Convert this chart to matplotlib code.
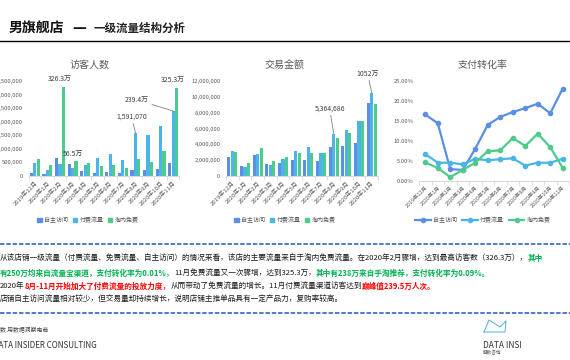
import matplotlib
matplotlib.use('Agg')
import matplotlib.pyplot as plt
from matplotlib.lines import Line2D
from matplotlib.patches import Patch
from matplotlib.ticker import FuncFormatter
import numpy as np

plt.rcParams['font.family'] = ['Noto Sans CJK SC', 'DejaVu Sans']

months = ['2019年12月', '2020年1月', '2020年2月', '2020年3月', '2020年4月', '2020年5月',
          '2020年6月', '2020年7月', '2020年8月', '2020年9月', '2020年10月', '2020年11月']
series = ['自主访问', '付费流量', '淘内免费']

# 访客人数
visitors_self = [120000, 70000, 665000, 440000, 197000, 110000, 148000, 110000, 210000, 210000, 270000, 468000]
visitors_paid = [470000, 210000, 455000, 283000, 393000, 665000, 800000, 590000, 1591070, 1500000, 1840000, 2394000]
visitors_free = [625000, 405000, 3263000, 565000, 480000, 370000, 405000, 283000, 625000, 516000, 920000, 3253000]

# 交易金额
sales_self = [2400000, 1300000, 2600000, 1520000, 1600000, 1980000, 2020000, 1940000, 3620000, 3790000, 4210000, 9180000]
sales_paid = [3160000, 1180000, 2740000, 1390000, 2190000, 3120000, 3660000, 2900000, 5364686, 5810000, 6950000, 10520000]
sales_free = [2990000, 1600000, 3540000, 1900000, 2360000, 2860000, 2950000, 2860000, 4800000, 5390000, 6950000, 9090000]

# 支付转化率 (%)
conv_self = [16.6, 14.4, 2.9, 2.7, 8.0, 14.0, 16.0, 17.2, 18.2, 19.3, 16.9, 23.1]
conv_paid = [6.7, 4.5, 4.5, 4.1, 5.5, 5.1, 5.4, 5.6, 3.8, 4.5, 4.5, 5.5]
conv_free = [4.6, 3.2, 0.9, 2.7, 4.5, 7.4, 7.6, 10.7, 8.7, 11.8, 8.4, 3.2]

colors = ['#5B8FE3', '#4BB5EA', '#4DCB8C']
grey = '#595959'

W, H = 570, 360
fig = plt.figure(figsize=(W / 100, H / 100), dpi=100)


def box(l, t, r, b):
    return [l / W, 1 - b / H, (r - l) / W, (b - t) / H]


def style_axis(ax, xfs):
    x = np.arange(len(months))
    for s in ['top', 'right', 'left']:
        ax.spines[s].set_visible(False)
    ax.spines['bottom'].set_color('#d9d9d9')
    ax.set_xlim(-0.5, len(months) - 0.5)
    ax.set_xticks(x)
    ax.set_xticklabels(months, rotation=45, ha='right', rotation_mode='anchor', fontsize=xfs, color=grey)
    ax.set_xticks(np.arange(-0.5, len(months)), minor=True)
    ax.tick_params(axis='x', which='major', length=0, pad=3)
    ax.tick_params(axis='x', which='minor', length=3, color='#d9d9d9')
    ax.tick_params(axis='y', length=0, pad=4, labelsize=4.2, labelcolor=grey)


def bar_chart(rect, vals, ymax, step):
    ax = fig.add_axes(rect)
    x = np.arange(len(months))
    for i, v in enumerate(vals):
        ax.bar(x + (i - 1) * 0.27, v, 0.25, color=colors[i], edgecolor='none')
    ax.set_ylim(0, ymax)
    ax.set_yticks(np.arange(0, ymax + 1, step))
    ax.yaxis.set_major_formatter(FuncFormatter(lambda v, _: f'{v:,.0f}'))
    style_axis(ax, 4.3)
    return ax


def note(ax, xi, off, val, text, dx, dy, line=False):
    ap = dict(arrowstyle='-', color='#7f7f7f', lw=0.6, shrinkA=0, shrinkB=0) if line else None
    ax.annotate(text, (xi + off * 0.27, val), xytext=(dx, dy), textcoords='offset pixels',
                ha='center', va='center', fontsize=5, color='#404040', arrowprops=ap)


# 访客人数
ax1 = bar_chart(box(28.5, 81, 179.5, 176), [visitors_self, visitors_paid, visitors_free], 3500000, 500000)
note(ax1, 2, 1, visitors_free[2], f'{visitors_free[2] / 1e4:.1f}万', -4, 8)
note(ax1, 3, 1, visitors_free[3], f'{visitors_free[3] / 1e4:.1f}万', -3, 7)
note(ax1, 8, 0, visitors_paid[8], f'{visitors_paid[8]:,}', -4, 16, True)
note(ax1, 11, 0, visitors_paid[11], f'{visitors_paid[11] / 1e4:.1f}万', -36, 11, True)
note(ax1, 11, 1, visitors_free[11], f'{visitors_free[11] / 1e4:.1f}万', -4, 8)

# 交易金额
ax2 = bar_chart(box(226, 81, 378, 176), [sales_self, sales_paid, sales_free], 12000000, 2000000)
note(ax2, 8, 0, sales_paid[8], f'{sales_paid[8]:,}', -4, 25, True)
note(ax2, 11, 0, sales_paid[11], f'{sales_paid[11] / 1e4:.0f}万', -4, 19, True)

# 支付转化率
ax3 = fig.add_axes(box(419, 81, 569, 180.7))
x = np.arange(len(months))
for i, v in enumerate([conv_self, conv_paid, conv_free]):
    ax3.plot(x, v, color=colors[i], lw=1.6, marker='o', markersize=3)
ax3.set_ylim(0, 25)
ax3.set_yticks(np.arange(0, 26, 5))
ax3.yaxis.set_major_formatter(FuncFormatter(lambda v, _: f'{v:.2f}%'))
style_axis(ax3, 3.9)

# chart titles
for cx, t in [(90, '访客人数'), (285, '交易金额'), (483, '支付转化率')]:
    fig.text(cx / W, 1 - 65 / H, t, ha='center', va='center', fontsize=7.2, color=grey)

# legends
bar_handles = [Patch(color=c, label=s) for c, s in zip(colors, series)]
line_handles = [Line2D([], [], color=c, lw=1.6, marker='o', markersize=3, label=s) for c, s in zip(colors, series)]
for cx, hs, hl in [(88, bar_handles, 0.7), (285, bar_handles, 0.7), (483, line_handles, 2.6)]:
    fig.legend(handles=hs, loc='center', bbox_to_anchor=(cx / W, 1 - 220 / H), ncol=3, frameon=False,
               fontsize=4.3, labelcolor=grey, handlelength=hl, handleheight=0.7, handletextpad=0.4,
               columnspacing=0.8)

# page title
fig.text(9 / W, 1 - 28 / H, '男旗舰店', fontsize=10, weight='bold', va='center', color='#111111')
fig.text(72 / W, 1 - 28 / H, '—', fontsize=10, weight='bold', va='center', color='#111111',
         family='DejaVu Sans')
fig.text(94 / W, 1 - 28.5 / H, '一级流量结构分析', fontsize=8.3, weight='bold', va='center', color='#222222')
fig.add_artist(Line2D([0, 1], [1 - 41 / H, 1 - 41 / H], color='black', lw=1))

# dashed separators
for yy in [244, 313]:
    fig.add_artist(Line2D([0, 1], [1 - yy / H, 1 - yy / H], color='#4472C4', lw=1.3, ls=(0, (2.5, 1))))

# commentary text
lines = [
    [('从该店铺一级流量（付费流量、免费流量、自主访问）的情况来看，该店的主要流量来自于淘内免费流量。在2020年2月骤增，达到最高访客数（326.3万），', 'n'),
     ('其中', 'g')],
    [('有250万均来自流量宝渠道，支付转化率为0.01%，', 'g'), ('11月免费流量又一次骤增，达到325.3万，', 'n'),
     ('其中有238万来自手淘推荐，支付转化率为0.09%。', 'g')],
    [('2020年', 'n'), ('8月-11月开始加大了付费流量的投放力度，', 'r'),
     ('从而带动了免费流量的增长。11月付费流量渠道访客达到', 'n'), ('巅峰值239.5万人次。', 'r')],
    [('店铺自主访问流量相对较少，但交易量却持续增长，说明店铺主推单品具有一定产品力，复购率较高。', 'n')],
]
styles = {'n': ('#1a1a1a', 'normal'), 'g': ('#00B050', 'bold'), 'r': ('#FF0000', 'bold')}
renderer = fig.canvas.get_renderer()
for yy, segs in zip([259, 273, 286, 300], lines):
    xx = 0
    for s, k in segs:
        c, wt = styles[k]
        t = fig.text(xx / W, 1 - yy / H, s, fontsize=5.5, color=c, weight=wt, va='center', ha='left')
        xx += t.get_window_extent(renderer).width

# footer
fig.text(0, 1 - 329 / H, '数 用数据洞察电商', fontsize=4.2, color='#404040', va='center')
fig.text(-7 / W, 1 - 346 / H, 'DATA INSIDER CONSULTING', fontsize=5.8, color='#333333', va='center')
fig.add_artist(Line2D(np.array([484, 489, 500, 506, 505, 484]) / W,
                      1 - np.array([332, 320, 327, 321, 332, 332]) / H, color='#4fb3c8', lw=0.7))
fig.text(483 / W, 1 - 345 / H, 'DATA INSI', fontsize=6, color='#333333', va='center')
fig.text(483 / W, 1 - 353 / H, '解数咨询', fontsize=3.3, color='#555555', va='center')

fig.savefig('out.png', dpi=100)
